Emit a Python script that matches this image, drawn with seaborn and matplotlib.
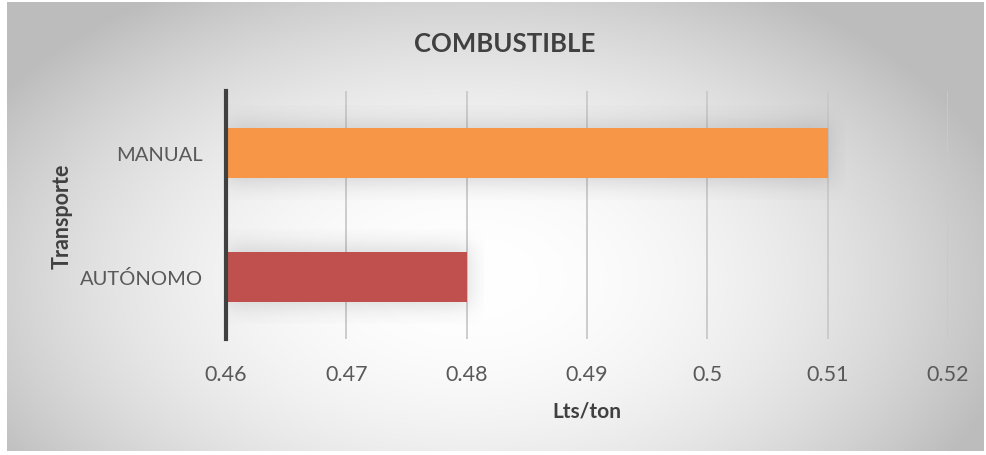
import numpy as np
import pandas as pd
import matplotlib
matplotlib.use("Agg")
import matplotlib.pyplot as plt
import seaborn as sns

# Fuel consumption per transport type
categories = ["MANUAL", "AUTÓNOMO"]
values = [0.51, 0.48]
bar_colors = ["#F79646", "#C0504D"]
x_ticks = [0.46, 0.47, 0.48, 0.49, 0.50, 0.51, 0.52]
x_tick_labels = ["0.46", "0.47", "0.48", "0.49", "0.5", "0.51", "0.52"]

title = "COMBUSTIBLE"
x_label = "Lts/ton"
y_label = "Transporte"

df = pd.DataFrame({"Transporte": categories, "Lts/ton": values})

sns.set_theme(style="white")
plt.rcParams["font.family"] = ["Lato", "DejaVu Sans"]

W, H = 986, 456
fig = plt.figure(figsize=(W / 100, H / 100), dpi=100)
fig.patch.set_facecolor("white")

# Radial grey-to-white backdrop of the chart area
x0, y0, x1, y1 = 7, 3, 984, 452
bg = fig.add_axes([x0 / W, 1 - y1 / H, (x1 - x0) / W, (y1 - y0) / H])
gx, gy = np.meshgrid(np.linspace(x0, x1, 400), np.linspace(y0, y1, 200))
cx, cy = 470, 280
r = np.sqrt(((gx - cx) / 560.0) ** 2 + ((gy - cy) / 340.0) ** 2)
r = np.clip(r, 0, 1)
shade = 1.0 - 0.26 * r ** 2.0
bg.imshow(np.dstack([shade, shade, shade]), extent=(x0, x1, y1, y0),
          aspect="auto", interpolation="bilinear")
bg.set_axis_off()

ax = fig.add_axes([226 / W, 1 - 340 / H, (948 - 226) / W, (340 - 92) / H])
ax.set_facecolor("none")

sns.barplot(data=df, x="Lts/ton", y="Transporte", hue="Transporte",
            palette=bar_colors, order=categories, hue_order=categories,
            width=0.4, legend=False, ax=ax, zorder=3, saturation=1,
            linewidth=0, edgecolor="none")

ax.set_xlim(x_ticks[0], x_ticks[-1])
ax.set_ylim(1.5, -0.5)

# Soft shadow behind each bar, taken from the drawn patches
sig = lambda t: 1.0 / (1.0 + np.exp(-t))
for p in ax.patches:
    bx = max(p.get_x(), x_ticks[0])
    bw = p.get_x() + p.get_width() - bx
    by, bh = p.get_y(), p.get_height()
    mx, my = 0.0014, 0.18
    sx, sy = 0.0005, 0.05
    xs = np.linspace(bx - 0.0005, bx + bw + mx, 300)
    ys = np.linspace(by - my, by + bh + my, 120)
    X, Y = np.meshgrid(xs, ys)
    a = (sig((X - bx) / sx) * sig((bx + bw + 0.0003 - X) / sx)
         * sig((Y - by + 0.05) / sy) * sig((by + bh + 0.05 - Y) / sy))
    rgba = np.zeros(X.shape + (4,))
    rgba[..., :3] = 0.35
    rgba[..., 3] = 0.2 * a
    ax.imshow(rgba, extent=(xs[0], xs[-1], ys[-1], ys[0]), aspect="auto",
              interpolation="bilinear", zorder=2)
ax.set_xlim(x_ticks[0], x_ticks[-1])
ax.set_ylim(1.5, -0.5)

ax.set_xticks(x_ticks)
ax.set_xticklabels(x_tick_labels)
ax.xaxis.grid(True, color="#c9c9c9", linewidth=1.3, zorder=1)
ax.yaxis.grid(False)
for s in ["top", "right", "bottom"]:
    ax.spines[s].set_visible(False)
ax.spines["left"].set_color("#404040")
ax.spines["left"].set_linewidth(3)
ax.spines["left"].set_zorder(4)

ax.tick_params(axis="x", length=0, pad=18, labelsize=15.5, labelcolor="#595959")
ax.tick_params(axis="y", length=0, pad=16.5, labelsize=14.5, labelcolor="#595959")

ax.set_xlabel(x_label, fontsize=15, fontweight="bold", color="#404040", labelpad=12)
ax.set_ylabel(y_label, fontsize=15.5, fontweight="bold", color="#404040")
ax.yaxis.set_label_coords(-0.212, 0.5)

fig.text(505 / W, 1 - 44 / H, title, ha="center", va="center",
         fontsize=18.5, fontweight="bold", color="#404040")

fig.savefig("out.png", dpi=100)
